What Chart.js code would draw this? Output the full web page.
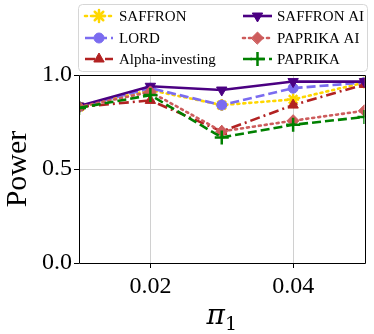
<!DOCTYPE html>
<html>
<head>
<meta charset="utf-8">
<script src="https://cdn.jsdelivr.net/npm/chart.js@4/dist/chart.umd.min.js"></script>
<style>
html,body{margin:0;padding:0;background:#fff;}
#wrap{width:374px;height:334px;position:relative;}
</style>
</head>
<body>
<div id="wrap"><canvas id="c" width="374" height="334"></canvas></div>
<script>
const xValues = [0.01, 0.02, 0.03, 0.04, 0.05];
const xTicks = [0.02, 0.04];
const yTicks = [0.0, 0.5, 1.0];
const seriesNames = ["SAFFRON", "LORD", "Alpha-investing", "SAFFRON AI", "PAPRIKA AI", "PAPRIKA"];
const saffron      = [0.83, 0.92, 0.84, 0.87, 0.96];
const lord         = [0.83, 0.93, 0.84, 0.93, 0.96];
const alphaInv     = [0.83, 0.865, 0.70, 0.84, 0.95];
const saffronAI    = [0.835, 0.94, 0.92, 0.965, 0.965];
const paprikaAI    = [0.83, 0.91, 0.70, 0.757, 0.81];
const paprika      = [0.825, 0.893, 0.668, 0.735, 0.777];
const xTitleMain = 'π';
const xTitleSub = '1';

const styles = [
  {color:'#FFD700', dash:[2,4], point:'star', radius:6, rot:0, cap:'round'},
  {color:'#7B6CF0', dash:[9,4], point:'circle', radius:5, rot:0, cap:'butt'},
  {color:'#B22222', dash:[10,4,2,4], point:'triangle', radius:6, rot:0, cap:'butt'},
  {color:'#4B0082', dash:[], point:'triangle', radius:6, rot:180, cap:'butt'},
  {color:'#CD5C5C', dash:[2,4], point:'rectRot', radius:6, rot:0, cap:'round'},
  {color:'#008000', dash:[9,4], point:'cross', radius:7, rot:0, cap:'butt'}
];
const allSeries = [saffron, lord, alphaInv, saffronAI, paprikaAI, paprika];

const datasets = allSeries.map((vals, i) => ({
  label: seriesNames[i],
  data: xValues.map((x, j) => ({x: x, y: vals[j]})),
  borderColor: styles[i].color,
  backgroundColor: styles[i].color,
  borderWidth: 2.6,
  borderDash: styles[i].dash,
  borderCapStyle: styles[i].cap,
  pointStyle: styles[i].point,
  pointRadius: styles[i].radius,
  pointRotation: styles[i].rot,
  pointBorderWidth: (styles[i].point === 'star' || styles[i].point === 'cross') ? 2.5 : 1,
  pointBorderColor: styles[i].color,
  pointBackgroundColor: styles[i].color,
  tension: 0,
  fill: false,
  order: seriesNames.length - i
}));

const serif = '"Liberation Serif", "Times New Roman", serif';

const legendPlugin = {
  id: 'customLegend',
  afterDraw(chart) {
    const ctx = chart.ctx;
    ctx.save();
    const bx = 78.5, by = 4.5, bw = 289, bh = 67, r = 4;
    ctx.beginPath();
    ctx.moveTo(bx + r, by);
    ctx.lineTo(bx + bw - r, by);
    ctx.quadraticCurveTo(bx + bw, by, bx + bw, by + r);
    ctx.lineTo(bx + bw, by + bh - r);
    ctx.quadraticCurveTo(bx + bw, by + bh, bx + bw - r, by + bh);
    ctx.lineTo(bx + r, by + bh);
    ctx.quadraticCurveTo(bx, by + bh, bx, by + bh - r);
    ctx.lineTo(bx, by + r);
    ctx.quadraticCurveTo(bx, by, bx + r, by);
    ctx.closePath();
    ctx.fillStyle = 'rgba(255,255,255,0.85)';
    ctx.fill();
    ctx.strokeStyle = '#d6d6d6';
    ctx.lineWidth = 1;
    ctx.stroke();
    const rowsY = [16, 38, 59];
    const cols = [{x0: 85, x1: 113, tx: 119}, {x0: 243, x1: 272, tx: 277}];
    chart.data.datasets.forEach((ds, i) => {
      const col = cols[Math.floor(i / 3)];
      const y = rowsY[i % 3];
      ctx.beginPath();
      ctx.setLineDash(ds.borderDash);
      ctx.lineCap = ds.borderCapStyle;
      ctx.strokeStyle = ds.borderColor;
      ctx.lineWidth = ds.borderWidth;
      ctx.moveTo(col.x0, y);
      ctx.lineTo(col.x1, y);
      ctx.stroke();
      ctx.setLineDash([]);
      ctx.lineWidth = ds.pointBorderWidth;
      ctx.strokeStyle = ds.pointBorderColor;
      ctx.fillStyle = ds.pointBackgroundColor;
      Chart.helpers.drawPoint(ctx, {pointStyle: ds.pointStyle, radius: ds.pointRadius, rotation: ds.pointRotation, borderWidth: ds.pointBorderWidth}, (col.x0 + col.x1) / 2, y);
      ctx.fillStyle = '#000';
      ctx.font = '15px ' + serif;
      ctx.textBaseline = 'middle';
      ctx.textAlign = 'left';
      ctx.fillText(ds.label, col.tx, y + 1);
    });
    ctx.restore();
  }
};

const xTitlePlugin = {
  id: 'xTitle',
  afterDraw(chart) {
    const a = chart.chartArea;
    const ctx = chart.ctx;
    ctx.save();
    ctx.fillStyle = '#000';
    ctx.textBaseline = 'alphabetic';
    ctx.textAlign = 'left';
    const fMain = 'italic 28px "DejaVu Serif", serif';
    const fSub = '19px "DejaVu Serif", serif';
    ctx.font = fMain;
    const w1 = ctx.measureText(xTitleMain).width;
    ctx.font = fSub;
    const w2 = ctx.measureText(xTitleSub).width;
    const cx = (a.left + a.right) / 2;
    const x0 = cx - (w1 + w2) / 2;
    const base = 324;
    ctx.font = fMain;
    ctx.fillText(xTitleMain, x0, base);
    ctx.font = fSub;
    ctx.fillText(xTitleSub, x0 + w1, base + 6);
    ctx.restore();
  }
};

const framePlugin = {
  id: 'frame',
  afterDatasetsDraw(chart) {
    const a = chart.chartArea;
    const ctx = chart.ctx;
    ctx.save();
    ctx.strokeStyle = '#000';
    ctx.lineWidth = 1;
    ctx.beginPath();
    ctx.moveTo(Math.round(a.left) + 0.5, Math.round(a.top) + 0.5);
    ctx.lineTo(Math.round(a.right) + 0.5, Math.round(a.top) + 0.5);
    ctx.lineTo(Math.round(a.right) + 0.5, Math.round(a.bottom) + 0.5);
    ctx.lineTo(Math.round(a.left) + 0.5, Math.round(a.bottom) + 0.5);
    ctx.closePath();
    ctx.stroke();
    ctx.restore();
  }
};

new Chart(document.getElementById('c'), {
  type: 'line',
  data: { datasets: datasets },
  options: {
    responsive: false,
    animation: false,
    devicePixelRatio: 1,
    layout: { padding: { left: 0, right: 7, top: 75, bottom: 0 } },
    plugins: { legend: { display: false }, tooltip: { enabled: false } },
    scales: {
      x: {
        type: 'linear',
        min: 0.01, max: 0.05,
        afterBuildTicks: (s) => { s.ticks = xTicks.map(v => ({value: v})); },
        afterFit: (s) => { s.height = 71; },
        grid: { color: '#d0d0d0', lineWidth: 1, drawTicks: true, tickLength: 5, tickColor: '#000' },
        border: { display: false },
        ticks: {
          font: { family: serif, size: 24 }, color: '#000', padding: 4, maxRotation: 0,
          callback: (v) => v.toFixed(2)
        },
        title: { display: false }
      },
      y: {
        min: 0, max: 1.0,
        afterBuildTicks: (s) => { s.ticks = yTicks.map(v => ({value: v})); },
        afterFit: (s) => { s.width = 79; },
        grid: { color: '#d0d0d0', lineWidth: 1, drawTicks: true, tickLength: 5, tickColor: '#000' },
        border: { display: false },
        ticks: {
          font: { family: serif, size: 24 }, color: '#000', padding: 2,
          callback: (v) => v.toFixed(1)
        },
        title: { display: true, text: 'Power', font: { family: serif, size: 30 }, color: '#000', padding: { top: 0, bottom: 0 } }
      }
    }
  },
  plugins: [framePlugin, legendPlugin, xTitlePlugin]
});
</script>
</body>
</html>
